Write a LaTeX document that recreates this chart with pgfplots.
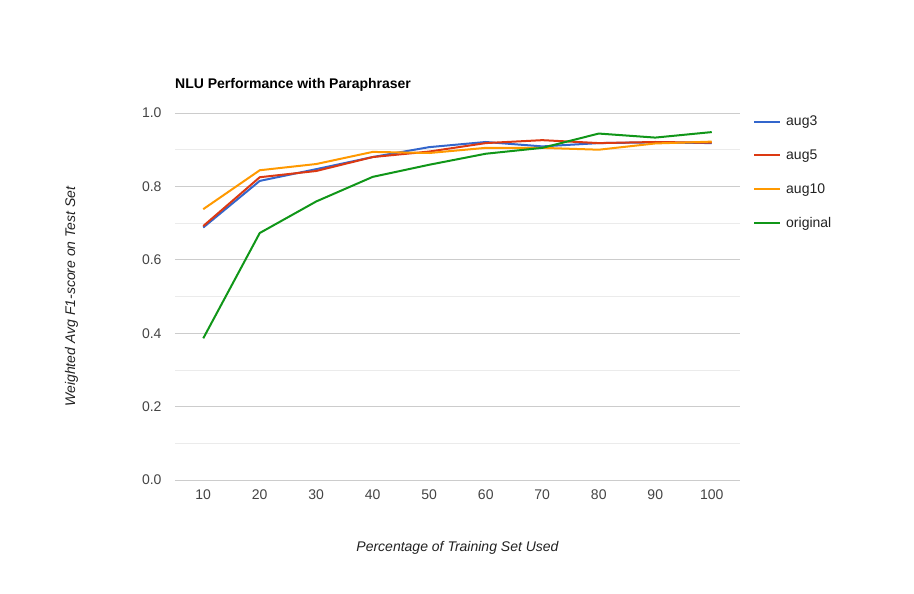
\documentclass[border=0pt]{standalone}
\usepackage{fontspec}
\setmainfont{Liberation Sans}
\usepackage{pgfplots}
\pgfplotsset{compat=1.18}
\definecolor{gblue}{HTML}{3366CC}
\definecolor{gred}{HTML}{DC3912}
\definecolor{gorange}{HTML}{FF9900}
\definecolor{ggreen}{HTML}{109618}
\definecolor{gmajor}{HTML}{CCCCCC}
\definecolor{gminor}{HTML}{EBEBEB}
\definecolor{gtext}{HTML}{444444}
\definecolor{gdark}{HTML}{222222}
\begin{document}
\begin{tikzpicture}
\useasboundingbox (0pt,0pt) rectangle (914pt,-594pt);
\node[anchor=west,inner sep=0pt,font=\fontsize{14}{16}\selectfont\bfseries] at (175pt,-84.5pt) {NLU Performance with Paraphraser};
\begin{axis}[
  at={(175pt,-480pt)}, anchor=south west,
  scale only axis, width=565pt, height=367pt,
  xmin=5, xmax=105, ymin=0, ymax=1,
  xtick={10,20,...,100},
  ytick={0,0.2,...,1.0},
  minor ytick={0.1,0.3,0.5,0.7,0.9},
  ymajorgrids, yminorgrids,
  major grid style={gmajor, line width=0.8pt},
  minor grid style={gminor, line width=0.8pt},
  axis line style={draw=none},
  major tick length=0pt, minor tick length=0pt,
  /pgf/number format/assume math mode=true,
  yticklabel style={/pgf/number format/fixed, /pgf/number format/fixed zerofill, /pgf/number format/precision=1, font=\fontsize{14}{16}\selectfont, text=gtext, xshift=-10pt},
  xticklabel style={font=\fontsize{14}{16}\selectfont, text=gtext, yshift=-6pt},
  xlabel={\itshape Percentage of Training Set Used},
  ylabel={\itshape Weighted Avg F1-score on Test Set},
  xlabel style={font=\fontsize{14}{16}\selectfont, text=gdark, yshift=-35pt},
  ylabel style={font=\fontsize{14}{16}\selectfont, text=gdark, yshift=57pt},
  legend style={at={(rel axis cs:1,1)}, anchor=north west, xshift=10pt, yshift=1pt, draw=none, fill=none, font=\fontsize{14}{16}\selectfont, text=gdark, row sep=18.4pt},
  legend cell align=left,
  legend image code/.code={\draw[#1] (0pt,0pt) -- (26pt,0pt);},
  every axis plot/.append style={line width=2pt, line join=round},
  clip=false,
]
\addplot[gblue] coordinates {(10,0.688) (20,0.815) (30,0.847) (40,0.880) (50,0.907) (60,0.921) (70,0.909) (80,0.918) (90,0.920) (100,0.918)};
\addlegendentry{\hspace{3pt}aug3}
\addplot[gred] coordinates {(10,0.692) (20,0.825) (30,0.842) (40,0.880) (50,0.895) (60,0.918) (70,0.926) (80,0.918) (90,0.921) (100,0.919)};
\addlegendentry{\hspace{3pt}aug5}
\addplot[gorange] coordinates {(10,0.738) (20,0.844) (30,0.861) (40,0.894) (50,0.891) (60,0.905) (70,0.905) (80,0.900) (90,0.917) (100,0.922)};
\addlegendentry{\hspace{3pt}aug10}
\addplot[ggreen] coordinates {(10,0.386) (20,0.673) (30,0.759) (40,0.826) (50,0.859) (60,0.889) (70,0.905) (80,0.944) (90,0.933) (100,0.948)};
\addlegendentry{\hspace{3pt}original}
\end{axis}
\end{tikzpicture}
\end{document}
